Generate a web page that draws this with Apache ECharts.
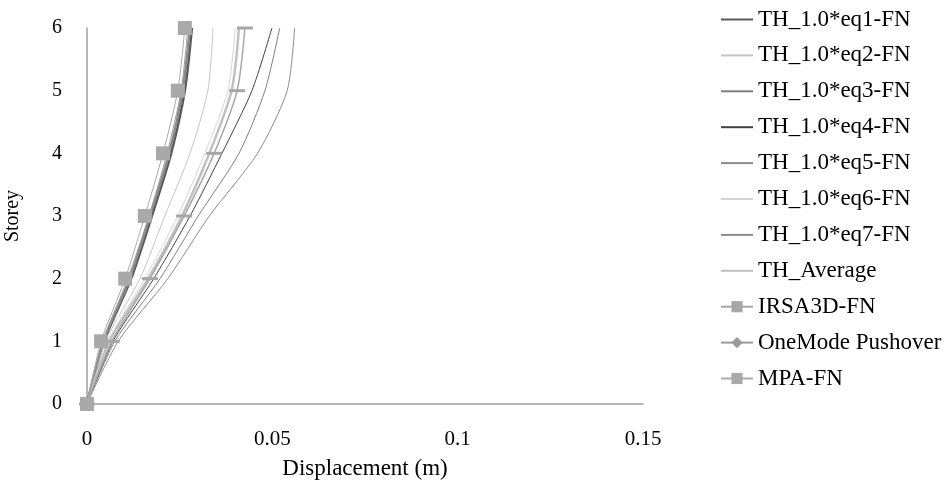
<!DOCTYPE html>
<html>
<head>
<meta charset="utf-8">
<script src="https://cdn.jsdelivr.net/npm/echarts@6/dist/echarts.min.js"></script>
<style>html,body{margin:0;padding:0;background:#fff}#c{width:946px;height:485px}</style>
</head>
<body>
<div id="c"></div>
<script>
const storeys = [0, 1, 2, 3, 4, 5, 6];
const xTicks = [0, 0.05, 0.1, 0.15];
const seriesNames = ['TH_1.0*eq1-FN','TH_1.0*eq2-FN','TH_1.0*eq3-FN','TH_1.0*eq4-FN','TH_1.0*eq5-FN','TH_1.0*eq6-FN','TH_1.0*eq7-FN','TH_Average','IRSA3D-FN','OneMode Pushover','MPA-FN'];
const eq1 = [0, 0.0046, 0.0119, 0.0175, 0.0227, 0.0264, 0.0283];
const eq2 = [0, 0.0050, 0.0143, 0.0210, 0.0278, 0.0326, 0.0340];
const eq3 = [0, 0.0075, 0.0197, 0.0300, 0.0410, 0.0480, 0.0520];
const eq4 = [0, 0.0070, 0.0180, 0.0278, 0.0364, 0.0445, 0.0499];
const eq5 = [0, 0.0044, 0.0115, 0.0170, 0.0222, 0.0258, 0.0278];
const eq6 = [0, 0.0057, 0.0156, 0.0245, 0.0318, 0.0380, 0.0400];
const eq7 = [0, 0.0084, 0.0218, 0.0330, 0.0460, 0.0540, 0.0560];
const avg = [0, 0.0060, 0.0165, 0.0256, 0.0330, 0.0390, 0.0410];
const irsa = [0, 0.0067, 0.0170, 0.0262, 0.0343, 0.0405, 0.0426];
const oneMode = [0, 0.0043, 0.0110, 0.0167, 0.0216, 0.0254, 0.0272];
const mpa = [0, 0.0038, 0.0103, 0.0156, 0.0205, 0.0245, 0.0264];

const values = [eq1, eq2, eq3, eq4, eq5, eq6, eq7, avg, irsa, oneMode, mpa];
const styles = [
  {color:'#595959', width:2.5, symbol:'none'},
  {color:'#c4c4c4', width:1, symbol:'none'},
  {color:'#7f7f7f', width:1, symbol:'none'},
  {color:'#404040', width:1, symbol:'none'},
  {color:'#8a8a8a', width:2.5, symbol:'none'},
  {color:'#d4d4d4', width:1, symbol:'none'},
  {color:'#8c8c8c', width:1, symbol:'none'},
  {color:'#c0c0c0', width:2.5, symbol:'none'},
  {color:'#a6a6a6', width:1.5, symbol:'rect', size:[16,3]},
  {color:'#9a9a9a', width:1, symbol:'diamond', size:8},
  {color:'#a9a9a9', width:1, symbol:'rect', size:14}
];
const font = 'Liberation Serif, Times New Roman, serif';
const series = seriesNames.map((n, i) => {
  const noSym = styles[i].symbol === 'none';
  return {
    name: n,
    type: 'line',
    data: values[i].map((v, k) => [v, storeys[k]]),
    symbol: noSym ? 'circle' : styles[i].symbol,
    symbolSize: styles[i].size || 4,
    showSymbol: !noSym,
    smooth: 0.25,
    lineStyle: {color: styles[i].color, width: styles[i].width},
    itemStyle: {color: noSym ? 'rgba(0,0,0,0)' : styles[i].color},
    z: 2 + i,
    animation: false
  };
});
const chart = echarts.init(document.getElementById('c'), null, {renderer:'canvas'});
chart.setOption({
  backgroundColor: '#fff',
  animation: false,
  grid: {left: 87, right: 303, top: 28, bottom: 81, containLabel: false, outerBoundsMode: 'none'},
  legend: {
    orient: 'vertical', left: 715, top: 3, itemWidth: 32, itemHeight: 14, itemGap: 12.9,
    textStyle: {fontFamily: font, fontSize: 23, lineHeight: 22, color: '#000'},
    data: seriesNames
  },
  xAxis: {
    type: 'value', min: 0, max: 0.15, interval: 0.05,
    name: 'Displacement (m)', nameLocation: 'middle', nameGap: 53,
    nameTextStyle: {fontFamily: font, fontSize: 23, color: '#000'},
    axisLine: {show: true, lineStyle: {color: '#a0a0a0', width: 1.5}},
    axisTick: {show: false}, splitLine: {show: false},
    axisLabel: {fontFamily: font, fontSize: 21, color: '#000', margin: 25,
      formatter: v => { const t = xTicks.find(x => Math.abs(x - v) < 1e-9); return t === undefined ? '' : String(t); }}
  },
  yAxis: {
    type: 'value', min: 0, max: 6, interval: 1,
    name: 'Storey', nameLocation: 'middle', nameGap: 64, nameRotate: 90,
    nameTextStyle: {fontFamily: font, fontSize: 20, color: '#000'},
    axisLine: {show: true, lineStyle: {color: '#a0a0a0', width: 1.5}},
    axisTick: {show: false}, splitLine: {show: false},
    axisLabel: {fontFamily: font, fontSize: 20, color: '#000', margin: 25}
  },
  series: series
});
</script>
</body>
</html>
